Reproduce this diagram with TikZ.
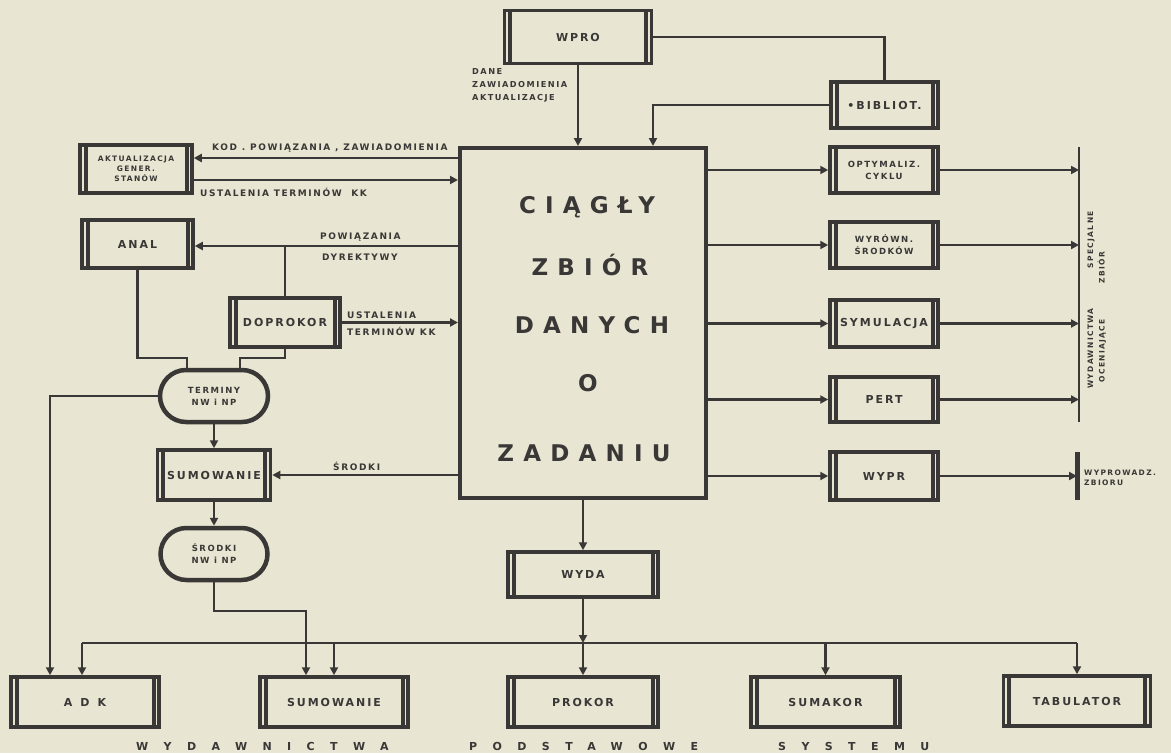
\documentclass[tikz,border=0pt]{standalone}
\usepackage{fontspec}
\setmainfont{DejaVu Sans}
\usetikzlibrary{arrows.meta,shapes.misc}
\definecolor{paper}{RGB}{233,229,211}
\definecolor{ink}{RGB}{58,56,54}
\newfontfamily\handA[LetterSpace=18]{DejaVu Sans}
\newfontfamily\handB[LetterSpace=40]{DejaVu Sans}
\newfontfamily\handC[LetterSpace=140]{DejaVu Sans}
\newcommand\boxf{\handA\fontsize{11}{13}\selectfont\bfseries}
\newcommand\smf{\handA\fontsize{8.5}{12}\selectfont\bfseries}
\newcommand\tinyf{\handA\fontsize{7.5}{10}\selectfont\bfseries}
\newcommand\danef{\handA\fontsize{8.2}{13}\selectfont\bfseries}
\newcommand\lblf{\handA\fontsize{9}{13}\selectfont\bfseries}
\newcommand\bigf{\handB\fontsize{23}{26}\selectfont\bfseries}
\newcommand\footf{\handC\fontsize{11}{13}\selectfont\bfseries}
\begin{document}
\begin{tikzpicture}[x=1pt,y=-1pt,
  conn/.style={draw=ink,line width=2.3pt},
  arr/.style={conn,-{Triangle[length=8pt,width=8pt]}},
  box/.style={draw=ink,line width=3.5pt,inner sep=1pt,align=center,text=ink,font=\boxf,
     path picture={\draw[ink,line width=4pt] ([xshift=5.5pt]path picture bounding box.north west) -- ([xshift=5.5pt]path picture bounding box.south west);
                   \draw[ink,line width=4pt] ([xshift=-5.5pt]path picture bounding box.north east) -- ([xshift=-5.5pt]path picture bounding box.south east);}},
  sbox/.style={box,font=\smf},
  oval/.style={draw=ink,line width=4.5pt,rounded rectangle,inner sep=1pt,align=center,text=ink,font=\smf},
  lbl/.style={text=ink,font=\lblf,inner sep=0pt,align=left},
  bigt/.style={text=ink,font=\bigf,inner sep=0pt},
  foot/.style={text=ink,font=\footf,inner sep=0pt,anchor=west},
]
\fill[paper] (0,0) rectangle (1171,753);
\useasboundingbox (0,0) rectangle (1171,753);

% central
\node[draw=ink,line width=4pt,minimum width=246,minimum height=350] (central) at (583,323) {};
\node[bigt] (c1) at (587,207) {CIĄGŁY};
\node[bigt] (c2) at (590,265) {ZBIÓR};
\node[bigt] (c3) at (592,325) {DANYCH};
\node[bigt] (c4) at (588,383) {O};
\node[bigt] (c5) at (584,453) {ZADANIU};

% top
\node[box,minimum width=147,minimum height=53] (wpro) at (578,37) {W\,P\,R\,O};
\node[box,minimum width=107,minimum height=46] (bib) at (884.5,105) {•BIBLIOT.};

% left column
\node[box,font=\tinyf,minimum width=112,minimum height=48] (akt) at (136,169) {AKTUALIZACJA\\GENER.\\STANÓW};
\node[box,minimum width=111,minimum height=48] (anal) at (137.5,244) {ANAL};
\node[box,minimum width=110,minimum height=49] (dop) at (285,322.5) {DOPROKOR};
\node[oval,minimum width=110,minimum height=52] (term) at (214,396) {TERMINY\\NW i NP};
\node[box,minimum width=113,minimum height=50] (sum1) at (214,475) {SUMOWANIE};
\node[oval,minimum width=109,minimum height=52] (srod) at (214,554) {ŚRODKI\\NW i NP};

% right column
\node[sbox,minimum width=108,minimum height=46] (opt) at (884,170) {OPTYMALIZ.\\CYKLU};
\node[sbox,minimum width=108,minimum height=46] (wyr) at (884,245) {WYRÓWN.\\ŚRODKÓW};
\node[box,minimum width=108,minimum height=47] (sym) at (884,323.5) {SYMULACJA};
\node[box,minimum width=108,minimum height=45] (pert) at (884,399.5) {PERT};
\node[box,minimum width=108,minimum height=48] (wypr) at (884,476) {W\,Y\,P\,R};

% bottom
\node[box,minimum width=150,minimum height=45] (wyda) at (583,574.5) {W\,Y\,D\,A};
\node[box,minimum width=148,minimum height=50] (adk) at (85,702) {A\hspace{8pt}D\hspace{8pt}K};
\node[box,minimum width=148,minimum height=50] (sum2) at (334,702) {SUMOWANIE};
\node[box,minimum width=150,minimum height=50] (prokor) at (583,702) {PROKOR};
\node[box,minimum width=149,minimum height=50] (sumakor) at (825.5,702) {SUMAKOR};
\node[box,minimum width=147,minimum height=50] (tab) at (1077,701) {TABULATOR};

% coordinates
\coordinate (vt) at (1079,147);
\coordinate (vb) at (1079,422);
\coordinate (wt) at (1077,452);
\coordinate (wb) at (1077,500);
\coordinate (busL) at (82,643);
\coordinate (busR) at (1077,643);

% top connectors
\draw[arr] (wpro.south) -- (wpro.south |- central.north);
\draw[conn] (wpro.east) -| (bib.north);
\draw[arr] (bib.west) -| ([xshift=70pt]central.north);

% left connectors
\coordinate (k1) at ([yshift=11pt]akt.east);
\coordinate (k2) at ([yshift=-11pt]akt.east);
\draw[arr] (k1 -| central.west) -- (k1);
\draw[arr] (k2) -- (k2 -| central.west);
\draw[arr] ([yshift=-2pt]anal.east -| central.west) -- ([yshift=-2pt]anal.east);
\draw[conn] ([yshift=-2pt]anal.east -| dop.north) -- (dop.north);
\draw[arr] (dop.east) -- (dop.east -| central.west);
\coordinate (t1) at ([xshift=-27pt]term.north);
\coordinate (t2) at ([xshift=26pt]term.north);
\draw[conn] (anal.south) |- ([yshift=10pt]t1) -- (t1);
\draw[conn] (dop.south) |- ([yshift=10pt]t2) -- (t2);
\draw[arr] (term.west) -| ([xshift=-35pt]adk.north);
\draw[arr] (term.south) -- (sum1.north);
\draw[arr] (sum1.east -| central.west) -- (sum1.east);
\draw[arr] (sum1.south) -- (srod.north);
\coordinate (s2) at ([xshift=-28pt]sum2.north);
\draw[arr] (srod.south) |- ([yshift=64pt]s2) -- (s2);

% right connectors
\draw[conn] (vt) -- (vb);
\draw[ink,line width=5pt] (wt) -- (wb);
\foreach \b in {opt,wyr,sym,pert,wypr}{
  \draw[arr] (\b.west -| central.east) -- (\b.west);
}
\foreach \b in {opt,wyr,sym,pert}{
  \draw[arr] (\b.east) -- (\b.east -| vt);
}
\draw[arr] (wypr.east) -- (wypr.east -| wt);

% bottom connectors
\draw[arr] (central.south) -- (wyda.north);
\draw[conn] (busL) -- (busR);
\draw[arr] (wyda.south) -- (wyda.south |- busL);
\draw[arr] (wyda.south |- busL) -- (prokor.north);
\draw[arr] (busL) -- (busL |- adk.north);
\draw[arr] (busL -| sum2.north) -- (sum2.north);
\draw[arr] (busL -| sumakor.north) -- (sumakor.north);
\draw[arr] (busR) -- (busR |- tab.north);

% labels
\node[lbl,font=\danef,anchor=west] (ldane) at (472,85) {DANE\\ZAWIADOMIENIA\\AKTUALIZACJE};
\node[lbl,anchor=west] (lkod) at (212,148) {KOD . POWIĄZANIA , ZAWIADOMIENIA};
\node[lbl,anchor=west] (lust1) at (200,192) {USTALENIA TERMINÓW \ KK};
\node[lbl,anchor=west] (lpow) at (320,237) {POWIĄZANIA};
\node[lbl,anchor=west] (ldyr) at (322,257) {DYREKTYWY};
\node[lbl,anchor=west] (lust2) at (347,315) {USTALENIA};
\node[lbl,anchor=west] (lter) at (347,331) {TERMINÓW KK};
\node[lbl,anchor=west] (lsr) at (333,466) {ŚRODKI};
\node[lbl,font=\tinyf,anchor=west] (lwyp) at (1084,478) {WYPROWADZ.\\ZBIORU};
\node[lbl,font=\tinyf,rotate=90] (lwyd) at (1091,300) {WYDAWNICTWA\hspace{40pt}SPECJALNE};
\node[lbl,font=\tinyf,rotate=90] (locen) at (1102,317) {OCENIAJĄCE\hspace{36pt}ZBIÓR};

% footer
\node[foot] (f1) at (136,746) {WYDAWNICTWA};
\node[foot] (f2) at (469,746) {PODSTAWOWE};
\node[foot] (f3) at (778,746) {SYSTEMU};
\end{tikzpicture}
\end{document}
